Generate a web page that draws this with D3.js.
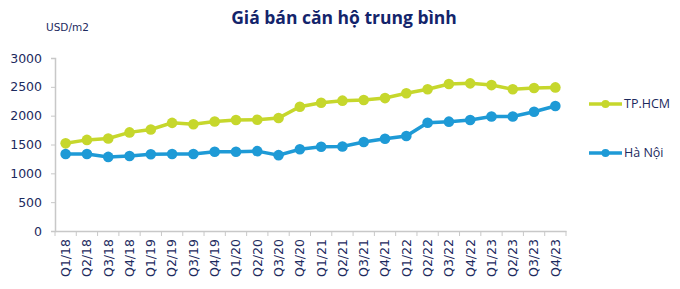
<!DOCTYPE html>
<html>
<head>
<meta charset="utf-8">
<script src="https://cdn.jsdelivr.net/npm/d3@7"></script>
<style>
  body { margin: 0; background: #fff; }
  text { font-family: "DejaVu Sans", sans-serif; fill: #1c2a5e; }
</style>
</head>
<body>
<div id="chart"></div>
<script>
// quarters on the x axis
const quarters = ["Q1/18", "Q2/18", "Q3/18", "Q4/18", "Q1/19", "Q2/19", "Q3/19", "Q4/19",
  "Q1/20", "Q2/20", "Q3/20", "Q4/20", "Q1/21", "Q2/21", "Q3/21", "Q4/21",
  "Q1/22", "Q2/22", "Q3/22", "Q4/22", "Q1/23", "Q2/23", "Q3/23", "Q4/23"];
// USD/m2
const hcm = [1520, 1580, 1605, 1710, 1760, 1875, 1850, 1900, 1925, 1930, 1960, 2155,
  2225, 2260, 2272, 2305, 2390, 2457, 2548, 2560, 2530, 2457, 2480, 2490];
const hanoi = [1335, 1335, 1285, 1300, 1330, 1335, 1335, 1375, 1375, 1385, 1315, 1417,
  1462, 1465, 1543, 1600, 1648, 1878, 1896, 1925, 1985, 1985, 2068, 2168];
const yTicks = [0, 500, 1000, 1500, 2000, 2500, 3000];
const series = [
  { name: "TP.HCM", values: hcm, color: "#c6d72c" },
  { name: "Hà Nội", values: hanoi, color: "#1e9ad6" }
];

const width = 680, height = 289;
const margin = { top: 58, right: 114, bottom: 58, left: 55 };

const svg = d3.select("#chart").append("svg")
  .attr("width", width)
  .attr("height", height);

const x = d3.scaleBand()
  .domain(quarters)
  .range([margin.left, width - margin.right]);

const y = d3.scaleLinear()
  .domain([0, 3000])
  .range([height - margin.bottom, margin.top]);

// title
svg.append("text")
  .attr("x", 344)
  .attr("y", 24)
  .attr("text-anchor", "middle")
  .style("font-family", "'Open Sans', sans-serif")
  .style("font-weight", "bold")
  .style("font-size", "17.5px")
  .style("fill", "#13246b")
  .text("Giá bán căn hộ trung bình");

svg.append("text")
  .attr("x", 46)
  .attr("y", 31)
  .style("font-size", "10.5px")
  .text("USD/m2");

// y axis
const yAxis = svg.append("g")
  .attr("transform", "translate(" + margin.left + ",0)")
  .call(d3.axisLeft(y).tickValues(yTicks).tickFormat(d3.format("d")).tickSize(4).tickPadding(9));

// x axis, ticks sit between the quarters
const xAxis = svg.append("g")
  .attr("transform", "translate(0," + (height - margin.bottom) + ")")
  .call(d3.axisBottom(x).tickSize(0).tickPadding(0));

xAxis.selectAll(".tick text")
  .attr("transform", "rotate(-90)")
  .attr("text-anchor", "end")
  .attr("dy", "0.35em")
  .attr("x", -8)
  .attr("y", 0);

xAxis.selectAll(".sep")
  .data(quarters.concat(["end"]))
  .enter().append("line")
  .attr("class", "sep")
  .attr("x1", (d, i) => margin.left + i * x.step())
  .attr("x2", (d, i) => margin.left + i * x.step())
  .attr("y1", 0)
  .attr("y2", 5)
  .attr("stroke", "#c8c8c8");

[yAxis, xAxis].forEach(g => {
  g.selectAll(".domain").attr("stroke", "#c8c8c8").attr("stroke-width", 1.5);
  g.selectAll(".tick line").attr("stroke", "#c8c8c8");
  g.selectAll(".tick text").style("font-size", "12.5px").style("fill", "#1c2a5e");
});

// lines and markers
const line = d3.line()
  .x((d, i) => x(quarters[i]) + x.bandwidth() / 2)
  .y(d => y(d));

series.forEach(s => {
  svg.append("path")
    .datum(s.values)
    .attr("fill", "none")
    .attr("stroke", s.color)
    .attr("stroke-width", 3.5)
    .attr("d", line);

  svg.append("g")
    .selectAll("circle")
    .data(s.values)
    .enter().append("circle")
    .attr("cx", (d, i) => x(quarters[i]) + x.bandwidth() / 2)
    .attr("cy", d => y(d))
    .attr("r", 5.3)
    .attr("fill", s.color);
});

// legend
const legend = svg.append("g")
  .selectAll("g")
  .data(series)
  .enter().append("g")
  .attr("transform", (d, i) => "translate(589," + (104 + i * 49) + ")");

legend.append("line")
  .attr("x1", 0).attr("x2", 33)
  .attr("stroke", d => d.color)
  .attr("stroke-width", 3.5);

legend.append("circle")
  .attr("cx", 16.5)
  .attr("r", 4)
  .attr("fill", d => d.color);

legend.append("text")
  .attr("x", 35)
  .attr("dy", "0.35em")
  .style("font-size", "12.5px")
  .style("font-family", "'Open Sans', sans-serif")
  .text(d => d.name);
</script>
</body>
</html>
